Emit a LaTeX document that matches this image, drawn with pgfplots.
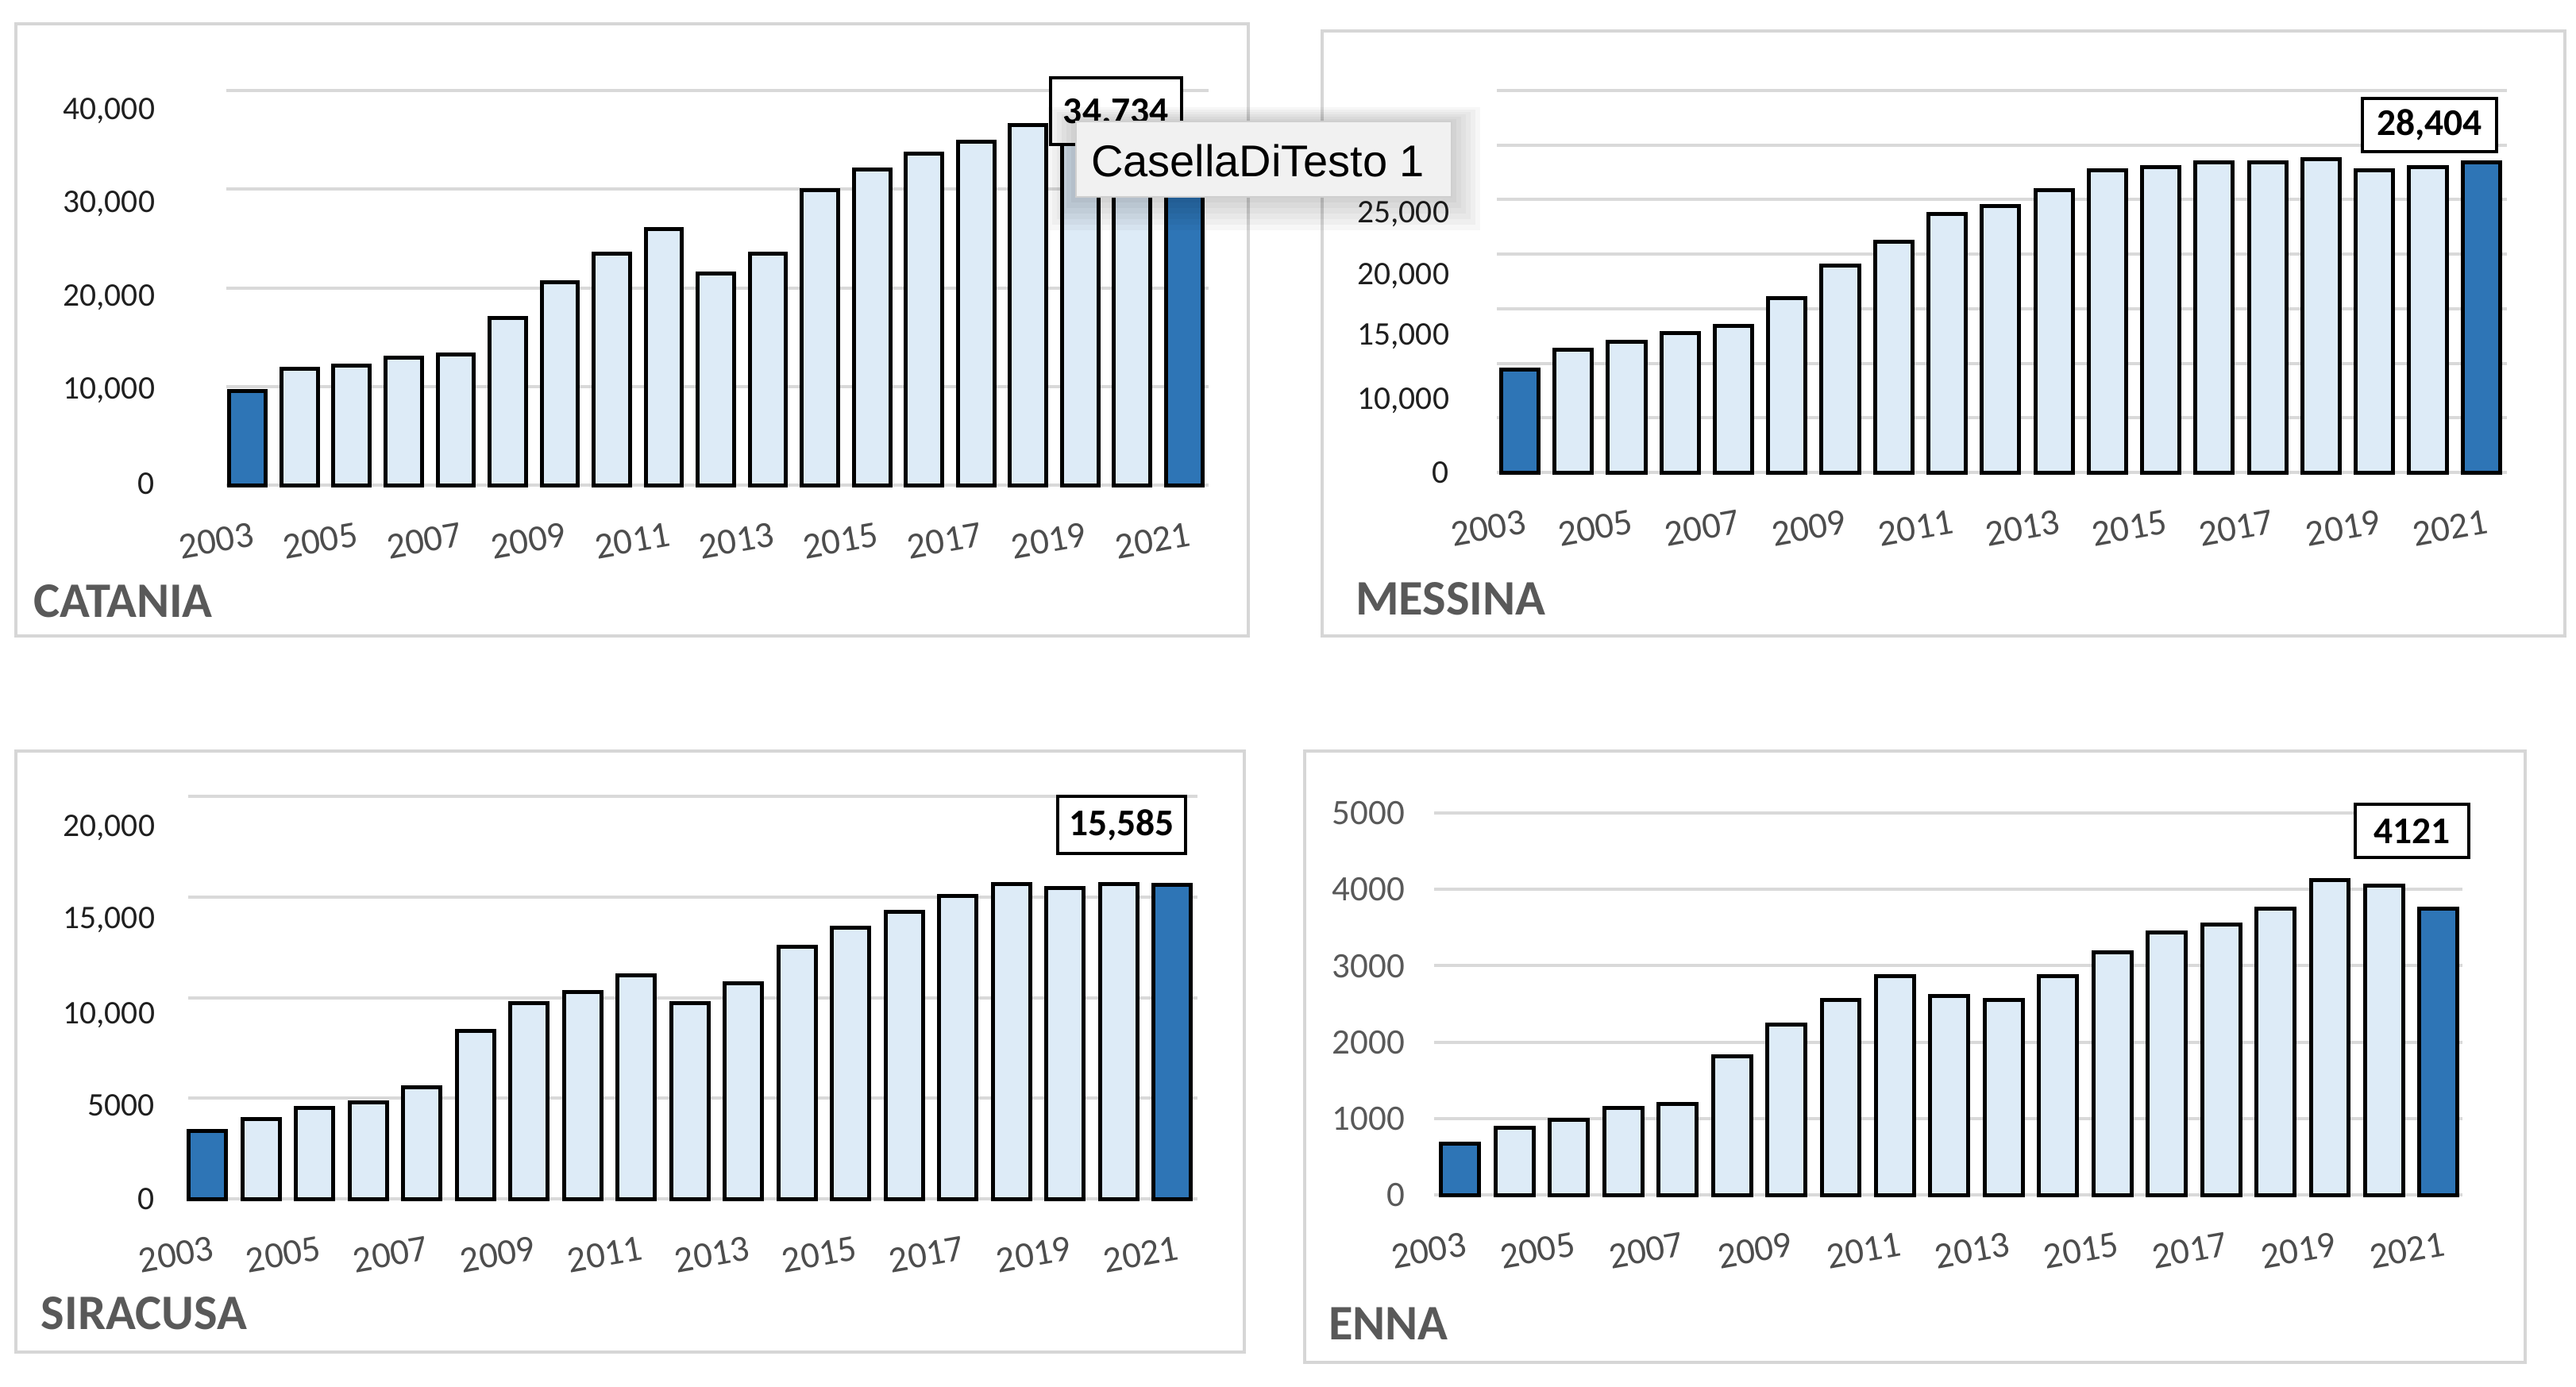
\documentclass[border=0pt]{standalone}
\usepackage{fontspec}
\setmainfont{Carlito}
\newfontfamily\tipfont{Liberation Sans}
\usepackage{pgfplots}
\pgfplotsset{compat=1.18}
\definecolor{darkbar}{HTML}{2E75B6}
\definecolor{lightbar}{HTML}{DDEBF7}
\definecolor{gridgray}{HTML}{D9D9D9}
\definecolor{framegray}{HTML}{D6D6D6}
\definecolor{titlegray}{HTML}{595959}
\definecolor{xgray}{HTML}{4D4D4D}
\definecolor{ydark}{HTML}{1F1F1F}
\definecolor{tipfill}{HTML}{F1F1F1}
\definecolor{tipborder}{HTML}{CFCFCF}
\pgfplotsset{
  panel/.style={
    scale only axis, anchor=south west,
    axis line style={draw=none},
    ymin=0, scaled y ticks=false,
    xtick={0,2,...,18},
    xticklabels={2003,2005,2007,2009,2011,2013,2015,2017,2019,2021},
    major tick length=0pt, minor tick length=0pt,
    yminorgrids=true,
    minor grid style={line width=0.8pt, draw=gridgray},
    clip=false,
    xticklabel style={rotate=10, anchor=north east, inner sep=0pt, xshift=-0.6pt, yshift=-9.2pt, text=xgray, font=\fontsize{9.3}{10}\selectfont},
    yticklabel style={anchor=east, inner sep=0pt, text depth=0pt, font=\fontsize{8.3}{9}\selectfont},
  },
  bars/.style={ybar, bar width=0.7, bar shift=0pt, draw=black, line width=1pt},
}
\begin{document}
\begin{tikzpicture}
\useasboundingbox (0,0) rectangle (648.8pt,349.2pt);
% frames
\draw[framegray, line width=0.65pt] (4pt,189pt) rectangle (314.4pt,343.2pt);
\draw[framegray, line width=0.65pt] (333pt,189pt) rectangle (646pt,341.4pt);
\draw[framegray, line width=0.65pt] (4pt,8.6pt) rectangle (313.4pt,160pt);
\draw[framegray, line width=0.65pt] (328.6pt,6pt) rectangle (636pt,160pt);

% CATANIA
\begin{axis}[panel, at={(57pt,227pt)}, width=247.4pt, height=99.4pt,
  xmin=-0.41, xmax=18.47, ymax=40000,
  minor ytick={0,10000,...,40000},
  ytick={150,9820,19240,28730,38150},
  yticklabels={0,{10,000},{20,000},{30,000},{40,000}},
  yticklabel style={xshift=-17.8pt, text=ydark}]
\addplot[bars, fill=lightbar] coordinates {(1,11760) (2,12100) (3,12940) (4,13280) (5,16940) (6,20600) (7,23480) (8,25920) (9,21450) (10,23480) (11,29930) (12,31990) (13,33590) (14,34770) (15,36460) (16,37000) (17,35800)};
\addplot[bars, fill=darkbar] coordinates {(0,9570) (18,34734)};
\end{axis}

% MESSINA
\begin{axis}[panel, at={(377pt,230.2pt)}, width=254.4pt, height=96.2pt,
  xmin=-0.43, xmax=18.48, ymax=35000,
  minor ytick={0,5000,...,35000},
  ytick={0,6770,12660,18190,23870,35200},
  yticklabels={0,{10,000},{15,000},{20,000},{25,000},{35,000}},
  yticklabel style={xshift=-11.8pt, text=ydark}]
\addplot[bars, fill=lightbar] coordinates {(1,11223) (2,11984) (3,12745) (4,13430) (5,15978) (6,18946) (7,21152) (8,23701) (9,24386) (10,25870) (11,27695) (12,28000) (13,28380) (14,28380) (15,28722) (16,27695) (17,28000)};
\addplot[bars, fill=darkbar] coordinates {(0,9435) (18,28404)};
\end{axis}

% SIRACUSA
\begin{axis}[panel, at={(47.4pt,47.2pt)}, width=254.2pt, height=101.4pt,
  xmin=-0.36, xmax=18.47, ymax=20000,
  minor ytick={0,5000,...,20000},
  ytick={0,4650,9230,13960,18540},
  yticklabels={0,5000,{10,000},{15,000},{20,000}},
  yticklabel style={xshift=-8.2pt, text=ydark}]
\addplot[bars, fill=lightbar] coordinates {(1,3950) (2,4530) (3,4780) (4,5550) (5,8360) (6,9710) (7,10290) (8,11120) (9,9710) (10,10710) (11,12520) (12,13470) (13,14280) (14,15050) (15,15650) (16,15450) (17,15650)};
\addplot[bars, fill=darkbar] coordinates {(0,3370) (18,15585)};
\end{axis}

% ENNA
\begin{axis}[panel, at={(361.2pt,48.2pt)}, width=259pt, height=96.2pt,
  xmin=-0.48, xmax=18.44, ymax=5000,
  minor ytick={0,1000,...,5000},
  ytick={0,1000,...,5000},
  yticklabels={0,1000,2000,3000,4000,5000},
  yticklabel style={xshift=-7.2pt, text=titlegray, font=\fontsize{9}{10}\selectfont}]
\addplot[bars, fill=lightbar] coordinates {(1,876) (2,986) (3,1134) (4,1194) (5,1818) (6,2234) (7,2547) (8,2859) (9,2601) (10,2547) (11,2859) (12,3176) (13,3439) (14,3543) (15,3751) (16,4118) (17,4053)};
\addplot[bars, fill=darkbar] coordinates {(0,668) (18,3751)};
\end{axis}

% titles
\node[anchor=base west, inner sep=0pt, text=titlegray, font=\fontsize{12.5}{14}\selectfont\bfseries] at (8.2pt,193.8pt) {CATANIA};
\node[anchor=base west, inner sep=0pt, text=titlegray, font=\fontsize{12.5}{14}\selectfont\bfseries] at (341.2pt,194.4pt) {MESSINA};
\node[anchor=base west, inner sep=0pt, text=titlegray, font=\fontsize{12.5}{14}\selectfont\bfseries] at (10.2pt,14.4pt) {SIRACUSA};
\node[anchor=base west, inner sep=0pt, text=titlegray, font=\fontsize{12.5}{14}\selectfont\bfseries] at (334.4pt,11.8pt) {ENNA};

% value boxes
\node[draw=black, line width=0.8pt, fill=white, minimum width=33pt, minimum height=16.8pt, inner sep=0pt, font=\fontsize{9.5}{11}\selectfont\bfseries] at (281.1pt,321.2pt) {34.734};
\node[draw=black, line width=0.8pt, fill=white, minimum width=33.8pt, minimum height=13.4pt, inner sep=0pt, font=\fontsize{9.5}{11}\selectfont\bfseries] at (611.9pt,317.7pt) {28,404};
\node[draw=black, line width=0.8pt, fill=white, minimum width=32.2pt, minimum height=14.4pt, inner sep=0pt, font=\fontsize{9.5}{11}\selectfont\bfseries] at (282.5pt,141.4pt) {15,585};
\node[draw=black, line width=0.8pt, fill=white, minimum width=28.6pt, minimum height=13.4pt, inner sep=0pt, font=\fontsize{9.5}{11}\selectfont\bfseries] at (607.5pt,139.9pt) {4121};

% tooltip
\foreach \i in {1,...,6}
  \fill[black, opacity=0.03] ({271pt-\i*1.2pt},{299.6pt-\i*1.4pt}) rectangle ({365.6pt+\i*1.2pt},{318.6pt+\i*0.6pt});
\draw[tipborder, fill=tipfill, line width=0.4pt] (271pt,299.6pt) rectangle (365.6pt,318.6pt);
\node[anchor=base west, inner sep=0pt, font=\tipfont\fontsize{11.2}{13}\selectfont] at (274.6pt,304.8pt) {CasellaDiTesto 1};
\end{tikzpicture}
\end{document}
